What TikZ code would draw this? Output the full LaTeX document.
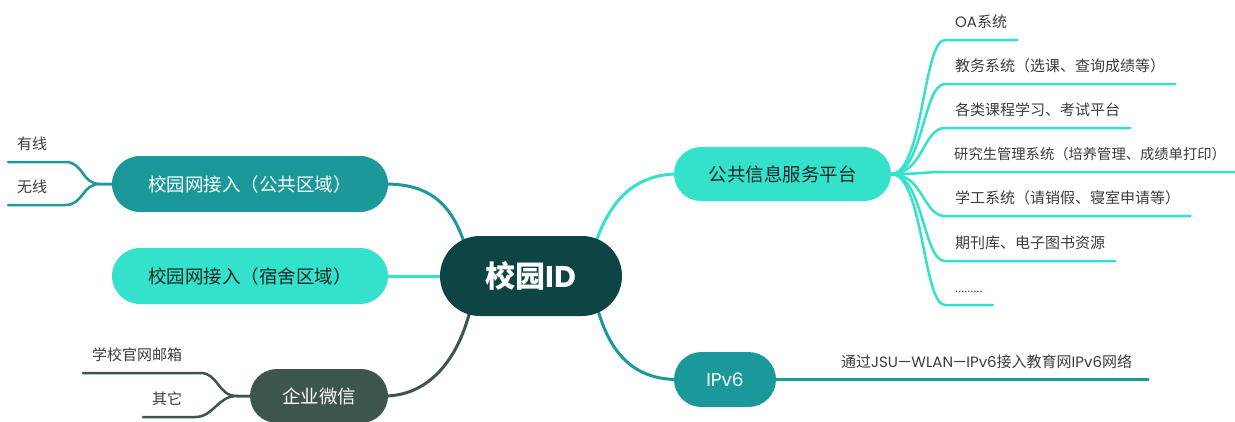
\documentclass[tikz,border=0pt]{standalone}
\usepackage{fontspec}
\setmainfont{Noto Sans CJK SC}
\newfontfamily\lat{Poppins}
\usetikzlibrary{calc}
\definecolor{cteal}{RGB}{27,152,154}
\definecolor{cturq}{RGB}{52,226,204}
\definecolor{cdark}{RGB}{14,68,68}
\definecolor{cgray}{RGB}{62,84,79}
\definecolor{ctext}{RGB}{60,60,60}
\definecolor{cboxtext}{RGB}{26,40,40}
\pgfdeclarelayer{bg}
\pgfsetlayers{bg,main}
\begin{document}
\begin{tikzpicture}[x=1pt,y=-1pt,
  pill/.style={inner sep=0pt, font=\fontsize{18.5}{20}\selectfont},
  leaf/.style={inner xsep=10pt, inner ysep=10pt, text height=11pt, text depth=2pt,
               font=\fontsize{15}{17}\selectfont, text=ctext},
  lleaf/.style={leaf, inner xsep=9pt, align=left, anchor=south west},
  br/.style={line width=3pt, line cap=round},
  lf/.style={line width=2.5pt, line cap=round}]
\useasboundingbox (0,0) rectangle (1235,421);
\clip (0,0) rectangle (1235,421);

% main nodes
\node[pill, fill=cdark, text=white, minimum width=182pt, minimum height=80pt,
      rounded corners=40pt, font=\fontsize{30}{33}\selectfont\bfseries] (id) at (531,276) {校园{\lat ID}};
\node[pill, fill=cturq, text=cboxtext, minimum width=217pt, minimum height=54pt,
      rounded corners=27pt] (pub) at (782.5,174) {公共信息服务平台};
\node[pill, fill=cteal, text=white, minimum width=102pt, minimum height=55pt,
      rounded corners=27.5pt] (v6) at (725,379.5) {\lat IPv6};
\node[pill, fill=cteal, text=white, minimum width=276pt, minimum height=56pt,
      rounded corners=28pt] (pa) at (250,184) {校园网接入（公共区域）};
\node[pill, fill=cturq, text=cboxtext, minimum width=276pt, minimum height=56pt,
      rounded corners=28pt] (ss) at (250,276) {校园网接入（宿舍区域）};
\node[pill, fill=cgray, text=white, minimum width=138pt, minimum height=54pt,
      rounded corners=27pt] (qy) at (319,396) {企业微信};

% right leaves
\node[leaf, anchor=south west] (l1) at (945,40) {{\lat OA}系统};
\node[leaf, anchor=south west] (l2) at (945,84) {教务系统（选课、查询成绩等）};
\node[leaf, anchor=south west] (l3) at (945,128) {各类课程学习、考试平台};
\node[leaf, anchor=south west, inner xsep=1pt, font=\fontsize{14.3}{16}\selectfont] (l4) at (953,172) {研究生管理系统（培养管理、成绩单打印）};
\node[leaf, anchor=south west] (l5) at (945,216) {学工系统（请销假、寝室申请等）};
\node[leaf, anchor=south west] (l6) at (945,261) {期刊库、电子图书资源};
\node[leaf, anchor=south west, font=\fontsize{11}{13}\selectfont] (l7) at (945,305) {.........};

% ipv6 leaf
\node[leaf, text width=297pt, align=left, anchor=south west] (iv) at (831,379.5)
  {通过{\lat JSU—WLAN—IPv6}接入教育网{\lat IPv6}网络};

% left leaves
\node[lleaf, text width=39pt] (yx) at (8,162) {有线};
\node[lleaf, text width=39pt] (wx) at (8,205) {无线};
\node[lleaf, text width=99pt] (xx) at (83,373) {学校官网邮箱};
\node[lleaf, text width=34pt] (qt) at (143,417) {其它};

\begin{pgfonlayer}{bg}
\fill[white] (0,0) rectangle (1235,421);
% main branches
\draw[br, cturq] ($(id.center)+(65,-34)$) .. controls ($(id.center)+(81,-81)$) and ($(pub.west)+(-34,0)$) .. ($(pub.west)+(4,0)$);
\draw[br, cteal] ($(id.center)+(67,34)$) .. controls ($(id.center)+(81,84)$) and ($(v6.west)+(-34,0)$) .. ($(v6.west)+(4,0)$);
\draw[br, cteal] ($(id.center)+(-67,-34)$) .. controls ($(id.center)+(-83,-81)$) and ($(pa.east)+(32,0)$) .. ($(pa.east)+(-4,0)$);
\draw[br, cgray] ($(id.center)+(-61,35)$) .. controls ($(id.center)+(-75,89)$) and ($(qy.east)+(37,0)$) .. ($(qy.east)+(-4,0)$);
\draw[br, cturq] (id.center) -- (ss.center);
% right fan
\foreach \n in {l1,l2,l3,l5,l6,l7}
  \draw[lf, cturq] (pub.east) .. controls +(32,0) and +(-22,0) .. (\n.south west) -- (\n.south east);
\draw[lf, cturq] (pub.east) .. controls +(32,0) and +(-22,0) .. ($(l4.south west)+(-8,0)$) -- ($(l4.south east)+(14,0)$);
% ipv6 leaf line
\draw[lf, cteal] (v6.east) -- (iv.south east);
% left fans
\draw[lf, cteal] (pa.west) -- ++(-12,0) .. controls +(-18,0) and +(18,0) .. (yx.south east) -- (yx.south west);
\draw[lf, cteal] (pa.west) -- ++(-12,0) .. controls +(-18,0) and +(18,0) .. (wx.south east) -- (wx.south west);
\draw[lf, cgray] (qy.west) -- ++(-13,0) .. controls +(-19,0) and +(18,0) .. (xx.south east) -- (xx.south west);
\draw[lf, cgray] (qy.west) -- ++(-13,0) .. controls +(-19,0) and +(18,0) .. (qt.south east) -- (qt.south west);
\end{pgfonlayer}
\end{tikzpicture}
\end{document}
